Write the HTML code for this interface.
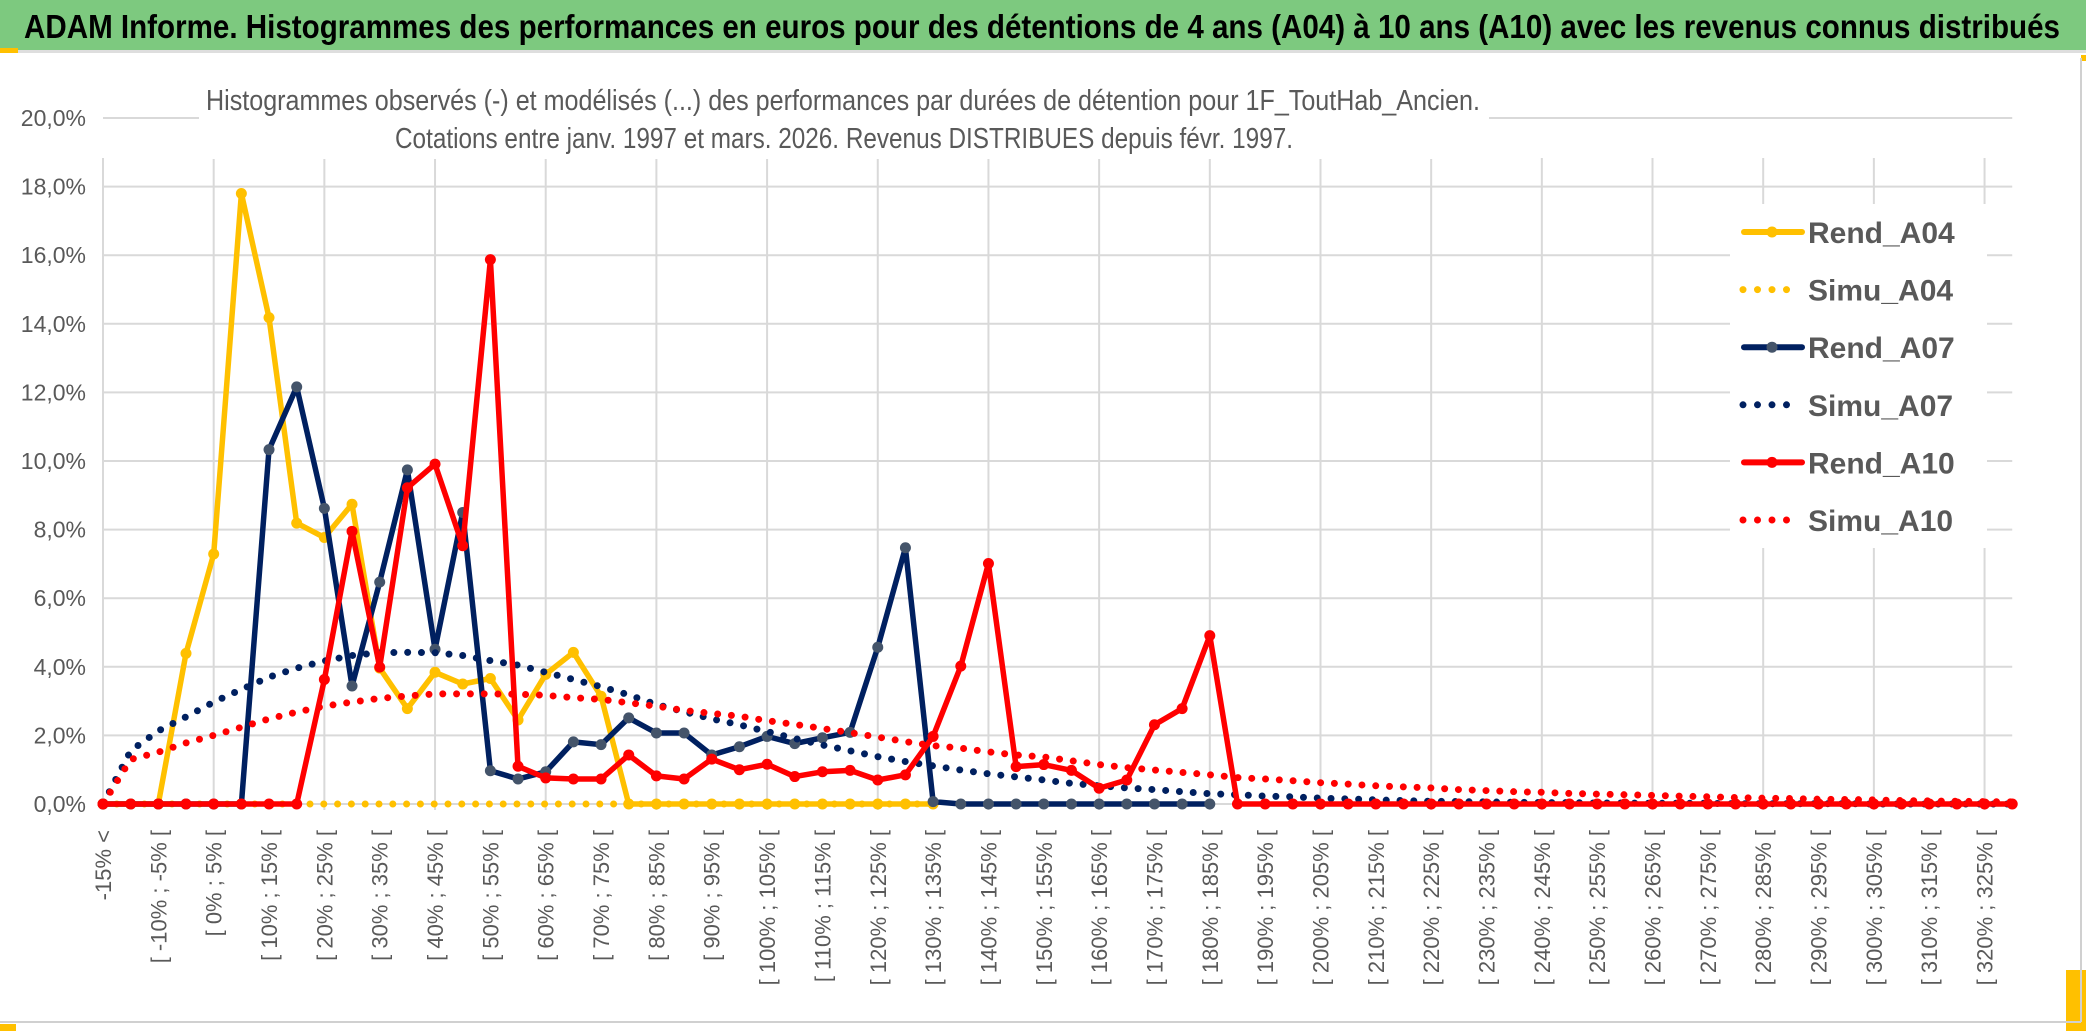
<!DOCTYPE html>
<html><head><meta charset="utf-8"><style>
html,body{margin:0;padding:0;background:#fff;}
svg{display:block;}
.t{font-family:"Liberation Sans Narrow","Liberation Sans",sans-serif;}
.a{font-family:"Liberation Sans",sans-serif;}
</style></head><body>
<svg id="chart" width="2086" height="1031" viewBox="0 0 2086 1031" xmlns="http://www.w3.org/2000/svg">
<rect x="0" y="0" width="2086" height="1031" fill="#fff"/>
<rect x="0" y="0" width="2086" height="50" fill="#7DC97F"/>
<rect x="0" y="50" width="2086" height="3" fill="#dedede"/>
<rect x="0" y="48" width="18" height="5" fill="#FFC000"/>
<rect x="0" y="1024" width="16" height="7" fill="#FFC000"/>
<rect x="2066" y="970" width="20" height="61" fill="#FFC000"/>
<rect x="2081" y="55" width="5" height="6" fill="#FFC000"/>
<line x1="2081" y1="58" x2="2081" y2="1022" stroke="#d0d0d0" stroke-width="2"/>
<line x1="0" y1="1022" x2="2081" y2="1022" stroke="#d0d0d0" stroke-width="2"/>
<text class="t" x="24" y="38" font-size="33" font-weight="bold" fill="#000" textLength="2036" lengthAdjust="spacingAndGlyphs">ADAM Informe. Histogrammes des performances en euros pour des détentions de 4 ans (A04) à 10 ans (A10) avec les revenus connus distribués</text>
<g id="grid"></g>
<rect x="199" y="62" width="1290" height="97" fill="#fff"/>
<text class="t" x="206" y="110" font-size="29" fill="#595959" textLength="1274" lengthAdjust="spacingAndGlyphs">Histogrammes observés (-) et modélisés (...) des performances par durées de détention pour 1F_ToutHab_Ancien.</text>
<text class="t" x="395" y="148" font-size="29" fill="#595959" textLength="898" lengthAdjust="spacingAndGlyphs">Cotations entre janv. 1997 et mars. 2026. Revenus DISTRIBUES depuis févr. 1997.</text>
<g id="ylabels"></g>
<g id="xlabels"></g>
<g id="series"></g>
<g id="legend"></g>
</svg>
<script>
const yTicks = [0,2,4,6,8,10,12,14,16,18,20];
const yTickLabels = ["0,0%","2,0%","4,0%","6,0%","8,0%","10,0%","12,0%","14,0%","16,0%","18,0%","20,0%"];
const nCats = 70;
const rendA04 = [0,0,0,4.39,7.29,17.8,14.18,8.19,7.77,8.74,3.96,2.78,3.84,3.5,3.66,2.45,3.78,4.42,3.14,0,0,0,0,0,0,0,0,0,0,0,0];
const simuA04 = [0,0,0,0,0,0,0,0,0,0,0,0,0,0,0,0,0,0,0,0,0,0,0,0,0,0,0,0,0,0,0];
const rendA07 = [0,0,0,0,0,0,10.33,12.16,8.62,3.44,6.47,9.74,4.51,8.5,0.97,0.73,0.94,1.81,1.73,2.51,2.07,2.07,1.43,1.67,1.97,1.76,1.93,2.09,4.57,7.47,0.07,0,0,0,0,0,0,0,0,0,0];
const simuA07 = [0,1.55,2.13,2.54,2.97,3.34,3.70,3.96,4.17,4.33,4.41,4.42,4.41,4.33,4.18,4.05,3.84,3.63,3.42,3.18,2.9,2.69,2.48,2.31,2.11,1.91,1.72,1.55,1.38,1.24,1.11,0.99,0.88,0.79,0.7,0.6,0.53,0.47,0.42,0.36,0.3,0.27,0.23,0.21,0.17,0.15,0.12,0.1,0.08,0.07,0.06,0.05,0.04,0.04,0.03,0.03,0.02,0.02,0.02,0.01,0.01,0.01,0.01,0.01,0,0,0,0,0,0];
const rendA10 = [0,0,0,0,0,0,0,0,3.63,7.95,3.99,9.22,9.91,7.53,15.87,1.1,0.76,0.73,0.73,1.43,0.82,0.73,1.31,1.0,1.16,0.8,0.94,0.98,0.7,0.85,1.97,4.02,7.01,1.09,1.15,0.98,0.46,0.70,2.31,2.78,4.91,0,0,0,0,0,0,0,0,0,0,0,0,0,0,0,0,0,0,0,0,0,0,0,0,0,0,0,0,0];
const simuA10 = [0,1.3,1.51,1.78,2.0,2.24,2.48,2.68,2.85,2.97,3.08,3.15,3.21,3.21,3.21,3.2,3.17,3.1,3.05,2.95,2.85,2.73,2.64,2.56,2.43,2.32,2.2,2.08,1.95,1.82,1.7,1.63,1.52,1.43,1.37,1.26,1.15,1.06,0.99,0.92,0.85,0.77,0.73,0.68,0.62,0.58,0.53,0.5,0.47,0.42,0.39,0.36,0.34,0.31,0.29,0.27,0.25,0.23,0.21,0.19,0.17,0.16,0.14,0.13,0.12,0.10,0.09,0.08,0.07,0.06];
const seriesNames = ["Rend_A04","Simu_A04","Rend_A07","Simu_A07","Rend_A10","Simu_A10"];

const NS = "http://www.w3.org/2000/svg";
const X0 = 103, STEP = 27.67, Y0 = 804, PXPER = 34.3;
function xs(i){ return X0 + i*STEP; }
function ys(v){ return Y0 - v*PXPER; }
function mk(tag, attrs, parent){ const e=document.createElementNS(NS,tag); for(const k in attrs) e.setAttribute(k,attrs[k]); parent.appendChild(e); return e; }
function catLabel(i){ if(i===0) return "-15% <"; const a=(i-4)*5; return "[ "+a+"% ; "+(a+5)+"% ["; }

const grid = document.getElementById('grid');
const xEnd = xs(nCats-1);
yTicks.forEach(v=>{
  const l = mk('line',{x1:X0,y1:ys(v),x2:xEnd,y2:ys(v),stroke:'#d9d9d9','stroke-width':2},grid);
  
  
});
for(let i=0;i<nCats;i+=4){
  const l = mk('line',{x1:xs(i),y1:ys(20)+40,x2:xs(i),y2:Y0+6,stroke:'#d9d9d9','stroke-width':2},grid);
  
  
}
const yl = document.getElementById('ylabels');
yTicks.forEach((v,i)=>{
  const t = mk('text',{x:86,y:ys(v)+8,'font-size':23,fill:'#595959','text-anchor':'end',class:'t'},yl);
  t.textContent = yTickLabels[i];
  
  
});
const xl = document.getElementById('xlabels');
for(let i=0;i<nCats;i+=2){
  const cx = xs(i)+8, cy = 830;
  const t = mk('text',{x:cx,y:cy,'font-size':22,fill:'#595959','text-anchor':'end',class:'a',transform:'rotate(-90 '+cx+' '+cy+')'},xl);
  t.textContent = catLabel(i);
  
  
}

const sg = document.getElementById('series');
function pts(arr){ return arr.map((v,i)=>xs(i).toFixed(1)+','+ys(v).toFixed(1)).join(' '); }
function drawRend(arr,color,mcolor,name){
  const g = mk('g',{},sg);
  
  
  const pl = mk('polyline',{points:pts(arr),fill:'none',stroke:color,'stroke-width':5.5,'stroke-linejoin':'round'},g);
  
  
  arr.forEach((v,i)=>{
    const c = mk('circle',{cx:xs(i),cy:ys(v),r:5.5,fill:mcolor},g);
    
    
  });
}
function drawSimu(arr,color,name){
  const pl = mk('polyline',{points:pts(arr),fill:'none',stroke:color,'stroke-width':7,'stroke-linecap':'round','stroke-dasharray':'0 13.8'},sg);
  
  
}
drawRend(rendA04,'#FFC000','#FFC000','rend-a04');
drawSimu(simuA04,'#FFC000','simu-a04');
drawRend(rendA07,'#002060','#44546A','rend-a07');
drawSimu(simuA07,'#002060','simu-a07');
drawRend(rendA10,'#FF0000','#FF0000','rend-a10');
drawSimu(simuA10,'#FF0000','simu-a10');

const lg = document.getElementById('legend');
const lbg = mk('rect',{x:1730,y:204,width:257,height:344,fill:'#fff'},lg);


const lcolors = ['#FFC000','#FFC000','#002060','#002060','#FF0000','#FF0000'];
const lmark = ['#FFC000','#FFC000','#44546A','#44546A','#FF0000','#FF0000'];
seriesNames.forEach((n,i)=>{
  const y = 232 + i*57.6;
  const g = mk('g',{},lg);
  
  
  if(i%2===0){
    mk('line',{x1:1744,y1:y,x2:1802,y2:y,stroke:lcolors[i],'stroke-width':6,'stroke-linecap':'round'},g);
    mk('circle',{cx:1772,cy:y,r:5.5,fill:lmark[i]},g);
  } else {
    const end = i===5 ? 1800 : 1790;
    mk('line',{x1:1743,y1:y,x2:end,y2:y,stroke:lcolors[i],'stroke-width':7,'stroke-linecap':'round','stroke-dasharray':'0 14.5'},g);
  }
  const t = mk('text',{x:1808,y:y+11,'font-size':30,fill:'#595959',class:'t','font-weight':'bold'},g);
  t.textContent = n;
});
</script>
</body></html>
